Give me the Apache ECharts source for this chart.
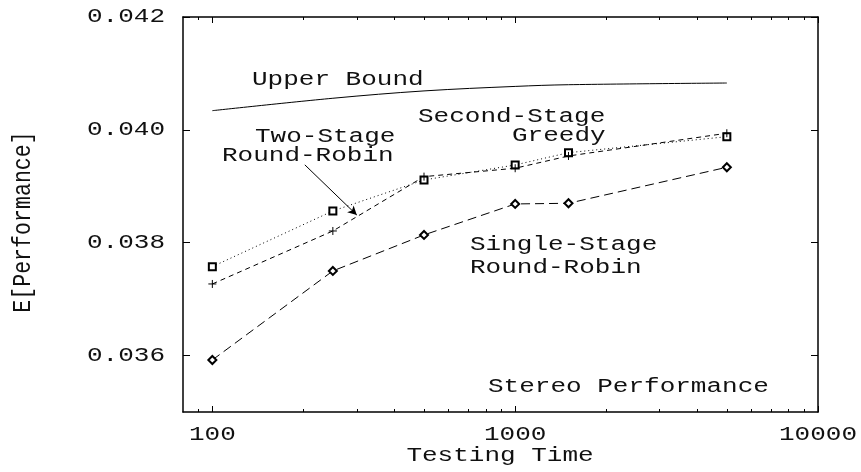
<!DOCTYPE html>
<html><head><meta charset="utf-8">
<script src="https://cdn.jsdelivr.net/npm/echarts@6/dist/echarts.min.js"></script>
<style>html,body{margin:0;padding:0;background:#fff}#c{width:861px;height:472px}</style>
</head><body><div id="c"></div>
<script>
// ---- data ----
const testingTimes = [100, 250, 500, 1000, 1500, 5000];
const upperBound = [0.04034, 0.04056, 0.04069, 0.04077, 0.04080, 0.04083];
const secondStageGreedy = [0.037576, 0.038563, 0.039112, 0.039378, 0.039596, 0.039879];
const twoStageRoundRobin = [0.037269, 0.038208, 0.039171, 0.039320, 0.039537, 0.039940];
const singleStageRoundRobin = [0.035922, 0.037500, 0.038138, 0.038687, 0.038699, 0.039337];
const xMajorTicks = [100, 1000, 10000];
const xTickLabels = ['100', '1000', '10000'];
const xMinorTicks = [90, 200, 300, 400, 500, 600, 700, 800, 900, 2000, 3000, 4000, 5000, 6000, 7000, 8000, 9000];
const yTicks = [0.036, 0.038, 0.040, 0.042];
const yTickLabels = ['0.036', '0.038', '0.040', '0.042'];
const arrowFrom = [202, 0.03938];
const arrowTo = [300, 0.03849];
const xName = 'Testing Time';
const yName = 'E[Performance]';
const chartTitle = 'Stereo Performance';

const FONT = '"Liberation Mono", "DejaVu Sans Mono", monospace';
const SX = 1.3;

const chart = echarts.init(document.getElementById('c'), null, {renderer: 'canvas'});

function xAxisDef(pos, ticks, len, showLine) {
  return {
    type: 'log', logBase: 10, min: 80, max: 10000, position: pos,
    axisLine: {show: showLine, lineStyle: {color: '#000', width: 1.5}},
    axisTick: {show: true, inside: true, length: len, customValues: ticks, lineStyle: {color: '#000', width: 1}},
    axisLabel: {show: false}, splitLine: {show: false}, minorTick: {show: false}
  };
}
function yAxisDef(pos) {
  return {
    type: 'value', min: 0.035, max: 0.042, position: pos,
    axisLine: {show: true, lineStyle: {color: '#000', width: 1.5}},
    axisTick: {show: true, inside: true, length: 7, customValues: yTicks, lineStyle: {color: '#000', width: 1}},
    axisLabel: {show: false}, splitLine: {show: false}
  };
}
function pairs(ys) { return testingTimes.map((x, i) => [x, ys[i]]); }

chart.setOption({
  animation: false,
  backgroundColor: '#fff',
  grid: {left: 183, top: 17, right: 43, bottom: 60, containLabel: false},
  xAxis: [
    xAxisDef('bottom', xMajorTicks, 6, true),
    xAxisDef('bottom', xMinorTicks, 3, false),
    xAxisDef('top', xMajorTicks, 6, true),
    xAxisDef('top', xMinorTicks, 3, false)
  ],
  yAxis: [yAxisDef('left'), yAxisDef('right')],
  series: [
    {
      name: 'Upper Bound', type: 'line', data: pairs(upperBound), smooth: 0.35,
      symbol: 'none', lineStyle: {color: '#000', width: 1}
    },
    {
      name: 'Second-Stage Greedy', type: 'line', data: pairs(secondStageGreedy),
      symbol: 'emptyRect', symbolSize: 7,
      itemStyle: {color: '#000', borderWidth: 1},
      lineStyle: {color: '#000', width: 1, type: [1, 3]}
    },
    {
      name: 'Two-Stage Round-Robin', type: 'line', data: pairs(twoStageRoundRobin),
      symbol: 'path://M0,5L10,5M5,0L5,10', symbolSize: 8,
      itemStyle: {color: 'none', borderColor: '#000', borderWidth: 1},
      lineStyle: {color: '#000', width: 1, type: [5, 4]},
      markLine: {
        silent: true, symbol: ['none', 'arrow'], symbolSize: [7, 9],
        lineStyle: {color: '#000', width: 1, type: 'solid'},
        label: {show: false},
        data: [[{coord: arrowFrom}, {coord: arrowTo}]]
      }
    },
    {
      name: 'Single-Stage Round-Robin', type: 'line', data: pairs(singleStageRoundRobin),
      symbol: 'emptyDiamond', symbolSize: [8, 8],
      itemStyle: {color: '#000', borderWidth: 1},
      lineStyle: {color: '#000', width: 1, type: [9, 5]}
    }
  ]
});

function txt(str, x, y, align, extra) {
  return Object.assign({
    type: 'text', x: x, y: y, scaleX: SX, scaleY: 1, silent: true, z: 10,
    style: {text: str, x: 0, y: 0, align: align, verticalAlign: 'middle', font: '20px ' + FONT, fill: '#111'}
  }, extra || {});
}

const left = chart.convertToPixel({xAxisIndex: 0}, 80);
const bottom = chart.convertToPixel({yAxisIndex: 0}, 0.035);
const graphics = [];
yTicks.forEach((v, i) => {
  graphics.push(txt(yTickLabels[i], left - 18, chart.convertToPixel({yAxisIndex: 0}, v), 'right'));
});
xMajorTicks.forEach((v, i) => {
  graphics.push(txt(xTickLabels[i], chart.convertToPixel({xAxisIndex: 0}, v), bottom + 23, 'center'));
});
graphics.push(txt('Upper Bound', 252, 80, 'left'));
graphics.push(txt('Second-Stage', 418, 117, 'left'));
graphics.push(txt('Greedy', 512, 136, 'left'));
graphics.push(txt('Two-Stage', 255, 137, 'left'));
graphics.push(txt('Round-Robin', 222, 156, 'left'));
graphics.push(txt('Single-Stage', 470, 245, 'left'));
graphics.push(txt('Round-Robin', 470, 268, 'left'));
graphics.push(txt(chartTitle, 488, 387, 'left'));
graphics.push(txt(xName, 500, 456, 'center'));
graphics.push(txt(yName, 23, 222, 'center', {rotation: Math.PI / 2, scaleX: 1.08, scaleY: 1.26}));

chart.setOption({graphic: {elements: graphics}});
</script>
</body></html>
